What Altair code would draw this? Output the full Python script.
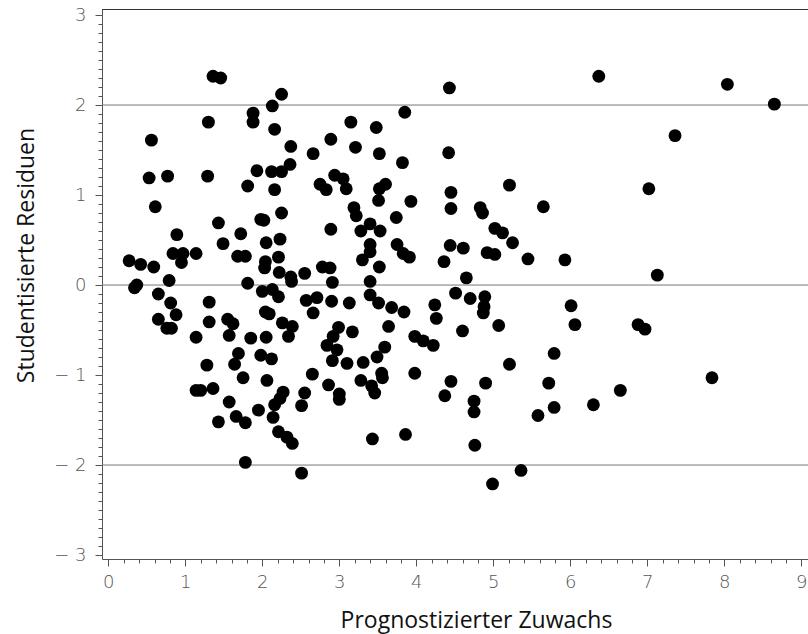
import altair as alt
import pandas as pd

# Predicted growth (x) and studentized residuals (y)
x_vals = [
    1.36, 1.46, 2.25, 2.13, 1.88, 1.88, 1.30, 2.16, 0.56, 2.37, 2.36, 1.93, 2.12, 2.25, 0.53, 0.77, 1.29, 1.81, 2.16, 0.61,
    2.25, 1.98, 2.02, 1.43, 0.89, 1.72, 2.23, 1.49, 2.05, 2.21, 0.84, 0.97, 1.14, 0.95, 1.68, 1.78, 2.04, 2.03, 2.22, 2.37,
    2.38, 0.27, 0.42, 0.59, 0.79, 0.34, 0.37, 1.81, 2.00, 2.13,
    0.65, 0.81, 0.88, 0.65, 0.76, 0.82, 1.14, 1.31, 1.31, 1.55, 1.62, 1.57, 1.85, 2.05, 2.21, 2.04, 2.09, 2.26, 2.39, 2.34,
    1.69, 1.64, 1.28, 1.98, 2.12, 1.75, 2.06, 1.14, 1.20, 1.36, 1.57, 1.66, 1.78, 1.43, 1.95, 2.14, 2.16, 2.27, 2.23, 2.21,
    2.32, 2.39, 1.78, 2.51,
    4.43, 3.85, 3.15, 3.48, 2.89, 3.21, 2.66, 3.52, 4.42, 3.82, 2.94, 3.05, 3.09, 2.75, 2.83, 3.60, 3.52, 3.51, 3.93, 4.45,
    4.45, 4.83, 4.86, 3.19, 3.22, 3.74, 2.89, 3.28, 3.40, 3.53, 3.40, 3.40, 3.30, 3.52, 3.75, 3.83, 3.91, 4.44, 4.61, 4.92,
    4.36, 4.65, 2.55, 2.78, 2.88, 2.91, 3.40,
    4.51, 4.70, 4.89, 4.88, 4.87, 2.57, 2.71, 2.66, 2.90, 3.13, 3.40, 3.51, 3.68, 3.84, 4.24, 4.26, 4.60, 2.99, 3.17, 3.64,
    2.92, 2.84, 2.97, 2.91, 3.10, 3.31, 3.49, 3.59, 3.98, 4.09, 4.22, 2.65, 2.86, 3.00, 3.00, 3.28, 3.55, 3.56, 3.42, 3.46,
    3.98, 4.45, 4.37, 4.90, 4.75, 4.75, 2.55, 2.51, 3.43, 3.86, 4.76, 4.99,
    6.37, 8.04, 8.65, 7.36, 7.02, 5.21, 5.65, 5.02, 5.12, 5.25, 5.02, 5.45, 5.93, 7.13,
    6.01, 6.06, 5.07, 6.88, 6.97, 5.79, 5.21, 5.72, 7.84, 6.65, 6.30, 5.79, 5.58, 5.36,
]
y_vals = [
    2.32, 2.30, 2.12, 1.99, 1.91, 1.81, 1.81, 1.73, 1.61, 1.54, 1.34, 1.27, 1.26, 1.26, 1.19, 1.21, 1.21, 1.10, 1.06, 0.87,
    0.80, 0.73, 0.72, 0.69, 0.56, 0.57, 0.51, 0.46, 0.47, 0.31, 0.35, 0.35, 0.35, 0.25, 0.32, 0.32, 0.26, 0.19, 0.14, 0.09,
    0.04, 0.27, 0.23, 0.20, 0.05, -0.03, 0.00, 0.02, -0.07, -0.05,
    -0.10, -0.20, -0.33, -0.38, -0.48, -0.48, -0.58, -0.19, -0.41, -0.38, -0.43, -0.56, -0.59, -0.58, -0.13, -0.30, -0.32, -0.42, -0.46, -0.57,
    -0.76, -0.88, -0.89, -0.78, -0.82, -1.03, -1.06, -1.17, -1.17, -1.15, -1.30, -1.46, -1.53, -1.52, -1.39, -1.47, -1.33, -1.19, -1.26, -1.63,
    -1.69, -1.76, -1.97, -2.09,
    2.19, 1.92, 1.81, 1.75, 1.62, 1.53, 1.46, 1.46, 1.47, 1.36, 1.22, 1.18, 1.07, 1.12, 1.06, 1.12, 1.07, 0.94, 0.93, 1.03,
    0.85, 0.86, 0.80, 0.86, 0.77, 0.75, 0.62, 0.60, 0.68, 0.60, 0.45, 0.37, 0.28, 0.20, 0.45, 0.35, 0.31, 0.44, 0.41, 0.36,
    0.26, 0.08, 0.13, 0.20, 0.19, 0.03, 0.04,
    -0.09, -0.15, -0.13, -0.24, -0.31, -0.17, -0.14, -0.31, -0.18, -0.20, -0.11, -0.20, -0.25, -0.30, -0.22, -0.37, -0.51, -0.47, -0.52, -0.46,
    -0.57, -0.67, -0.72, -0.84, -0.87, -0.86, -0.80, -0.69, -0.57, -0.62, -0.67, -0.99, -1.11, -1.21, -1.27, -1.06, -0.98, -1.03, -1.12, -1.20,
    -0.98, -1.07, -1.23, -1.09, -1.29, -1.41, -1.20, -1.34, -1.71, -1.66, -1.78, -2.21,
    2.32, 2.23, 2.01, 1.66, 1.07, 1.11, 0.87, 0.63, 0.58, 0.47, 0.34, 0.29, 0.28, 0.11,
    -0.23, -0.44, -0.45, -0.44, -0.49, -0.76, -0.88, -1.09, -1.03, -1.17, -1.33, -1.36, -1.45, -2.06,
]
ref_levels = [2, 0, -2]

df = pd.DataFrame({"x": x_vals, "y": y_vals})
ref = pd.DataFrame({"y": ref_levels})

W, H = 706, 550
x_ticks = [round(i * 0.2, 1) for i in range(0, 46)]
y_ticks = [round(-3 + i * 0.1, 1) for i in range(0, 61)]

is_int = "abs(datum.value - round(datum.value)) < 1e-6"
lab = f"{is_int} ? (datum.value < 0 ? '\u2212 ' + format(abs(datum.value), 'd') : format(datum.value, 'd')) : ''"

xscale = alt.Scale(domain=[-0.082, 9.087], nice=False, zero=False)
yscale = alt.Scale(domain=[-3.044, 3.067], nice=False, zero=False)

common_axis = dict(
    domainColor="#555555", tickColor="#555555", labelColor="#555555",
    labelFont="DejaVu Sans", labelFontWeight=200, labelFontSize=18,
    titleFont="Open Sans", titleFontWeight="normal", titleFontSize=23, titleColor="#111111",
    grid=False, labelExpr=lab, labelOverlap=False, labelFlush=False, tickCount=500,
    tickSize=alt.ConditionalAxisNumber(condition={"test": is_int, "value": 7}, value=4),
)

points = alt.Chart(df).mark_circle(size=165, color="black", opacity=1).encode(
    x=alt.X("x:Q", scale=xscale,
            axis=alt.Axis(values=x_ticks, title="Prognostizierter Zuwachs", labelPadding=7,
                          titleX=374, titleY=68, titleBaseline="alphabetic", titleAlign="center",
                          **common_axis)),
    y=alt.Y("y:Q", scale=yscale,
            axis=alt.Axis(values=y_ticks, title="Studentisierte Residuen", labelPadding=9,
                          titleX=-69, titleY=246, titleBaseline="alphabetic", titleAlign="center",
                          titleAngle=270, **common_axis)),
)

rules = alt.Chart(ref).mark_rule(color="#777777", strokeWidth=1).encode(
    y=alt.Y("y:Q", scale=yscale)
)

top_line = alt.Chart(ref).mark_rule(color="#333333", strokeWidth=1).encode(
    x=alt.value(0), x2=alt.value(W), y=alt.value(0.5)
)

chart = alt.layer(rules, top_line, points).properties(
    width=W, height=H,
    padding={"left": 102, "top": 9, "right": 0, "bottom": 75},
    autosize=alt.AutoSizeParams(type="none"),
).configure_view(stroke=None)

chart.save("out.html", embed_options={"renderer": "svg", "actions": False})
